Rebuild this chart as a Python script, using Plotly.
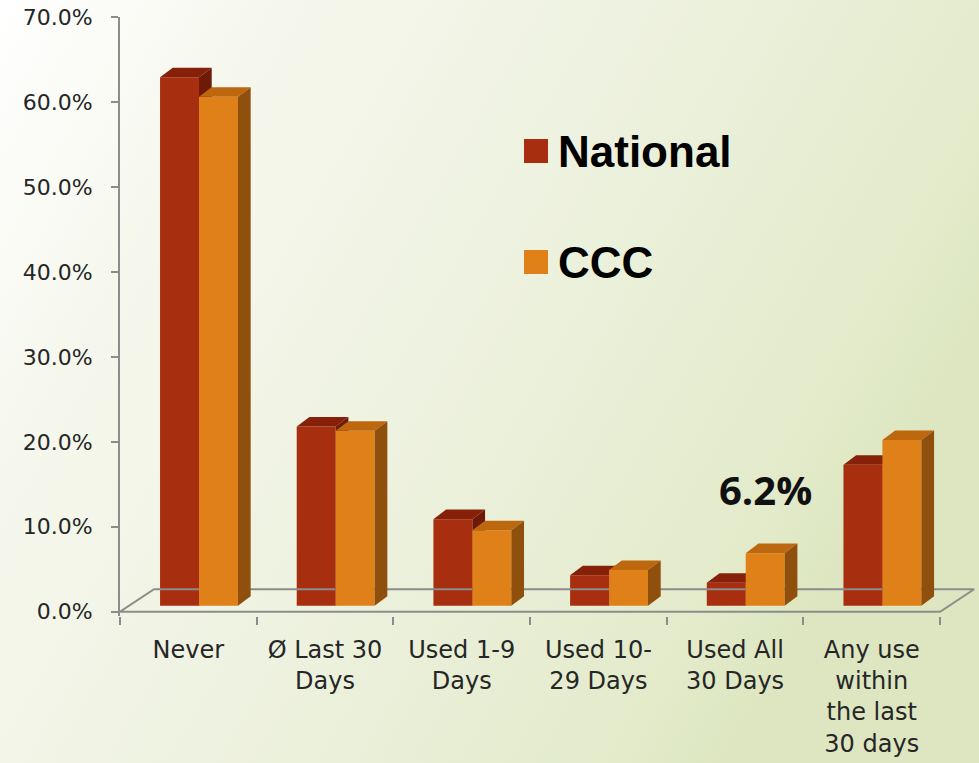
import base64
import plotly.graph_objects as go

# ---------------- data ----------------
categories = ["Never", "Ø Last 30<br>Days", "Used 1-9<br>Days", "Used 10-<br>29 Days",
              "Used All<br>30 Days", "Any use<br>within<br>the last<br>30 days"]
series_names = ["National", "CCC"]
national = [62.2, 21.1, 10.2, 3.6, 2.7, 16.6]
ccc = [59.9, 20.6, 8.9, 4.2, 6.2, 19.5]
y_ticks = [0, 10, 20, 30, 40, 50, 60, 70]
highlight_index = 4  # CCC value called out in the chart

# ---------------- style ----------------
W, H = 979, 763
ML, MR, MT, MB = 120, 2, 17, 147
PLOT_W, PLOT_H = W - ML - MR, H - MT - MB
X_MAX = 6.27
Y_MIN, Y_MAX = -0.5, 70
FLOOR_DX, FLOOR_DY = 0.249, 2.65      # depth of the 3D floor (x units, % units)
FRONT_DX, FRONT_DY = 0.078, 0.7       # where the bar fronts sit inside the floor
SIDE_DX, SIDE_DY = 0.093, 1.12        # bar depth
BAR_W = 0.285
GREY = "#8c8c8c"
TEXT = "#262626"
COL = {
    "National": {"front": "#a82e10", "top": "#862009", "side": "#6f1a07"},
    "CCC": {"front": "#e08019", "top": "#bd670f", "side": "#8f500e"},
}


def px_x(p):
    return (p - ML) / PLOT_W


def px_y(p):
    return (H - MB - p) / PLOT_H


centers = [i + 0.5 for i in range(len(categories))]

fig = go.Figure()

# floor of the 3D chart
n = len(categories)
fig.add_trace(go.Scatter(
    x=[0, n, n + FLOOR_DX, FLOOR_DX, 0], y=[0, 0, FLOOR_DY, FLOOR_DY, 0],
    mode="lines", line=dict(color=GREY, width=2), hoverinfo="skip", showlegend=False,
    xaxis="x", yaxis="y"))


def faces(values, offset):
    tx, ty, sx, sy = [], [], [], []
    for c, v in zip(centers, values):
        x0 = c + FRONT_DX + offset
        x1 = x0 + BAR_W
        b = FRONT_DY
        t = FRONT_DY + v
        tx += [x0, x1, x1 + SIDE_DX, x0 + SIDE_DX, x0, None]
        ty += [t, t, t + SIDE_DY, t + SIDE_DY, t, None]
        sx += [x1, x1, x1 + SIDE_DX, x1 + SIDE_DX, x1, None]
        sy += [b, t, t + SIDE_DY, b + SIDE_DY, b, None]
    return tx, ty, sx, sy


for name, values, offset, (xa, ya) in [
    ("National", national, -BAR_W, ("x", "y")),
    ("CCC", ccc, 0.0, ("x2", "y2")),
]:
    col = COL[name]
    fig.add_trace(go.Bar(
        x=[c + FRONT_DX for c in centers], y=values, base=FRONT_DY,
        width=BAR_W, offset=offset, name=name,
        marker=dict(color=col["front"], line=dict(width=0)),
        showlegend=False, xaxis=xa, yaxis=ya))
    tx, ty, sx, sy = faces(values, offset)
    fig.add_trace(go.Scatter(x=tx, y=ty, mode="lines", fill="toself",
                             fillcolor=col["top"], line=dict(width=0, color=col["top"]),
                             hoverinfo="skip", showlegend=False, xaxis=xa, yaxis=ya))
    fig.add_trace(go.Scatter(x=sx, y=sy, mode="lines", fill="toself",
                             fillcolor=col["side"], line=dict(width=0, color=col["side"]),
                             hoverinfo="skip", showlegend=False, xaxis=xa, yaxis=ya))

# call-out label
hi = highlight_index
fig.add_annotation(
    x=centers[hi] + FRONT_DX + BAR_W / 2, y=FRONT_DY + ccc[hi] + 7.5,
    xref="x", yref="y", text=f"{ccc[hi]:.1f}%", showarrow=False,
    font=dict(family="Open Sans", size=40, color="#111111", weight="bold"))

# custom legend (large swatches)
shapes = []
for name, ytop in [("National", 139), ("CCC", 250)]:
    shapes.append(dict(type="rect", xref="paper", yref="paper",
                       x0=px_x(524), x1=px_x(548), y0=px_y(ytop + 24), y1=px_y(ytop),
                       fillcolor=COL[name]["front"], line=dict(width=0)))
    fig.add_annotation(x=px_x(556), y=px_y(ytop + 12), xref="paper", yref="paper",
                       xanchor="left", yanchor="middle", showarrow=False, text=name,
                       font=dict(family="Liberation Sans", size=44, color="#000000",
                                 weight="bold"))

# gradient background
svg = ("<svg xmlns='http://www.w3.org/2000/svg' width='979' height='763' "
       "preserveAspectRatio='none'><defs><linearGradient id='g' x1='0' y1='0' "
       "x2='1' y2='0.45'><stop offset='0' stop-color='#ffffff'/>"
       "<stop offset='0.25' stop-color='#f5f7ec'/><stop offset='0.55' stop-color='#eef2e0'/>"
       "<stop offset='0.89' stop-color='#e3ebcb'/><stop offset='1' stop-color='#dde6c0'/>"
       "</linearGradient></defs><rect width='100%' height='100%' fill='url(#g)'/></svg>")
img_src = "data:image/svg+xml;base64," + base64.b64encode(svg.encode()).decode()

fig.update_layout(
    width=W, height=H,
    margin=dict(l=ML, r=MR, t=MT, b=MB, pad=0),
    paper_bgcolor="#eef2e0", plot_bgcolor="rgba(0,0,0,0)",
    barmode="overlay", showlegend=False,
    shapes=shapes,
    images=[dict(source=img_src, xref="paper", yref="paper",
                 x=-ML / PLOT_W, y=1 + MT / PLOT_H,
                 sizex=W / PLOT_W, sizey=H / PLOT_H,
                 sizing="stretch", xanchor="left", yanchor="top", layer="below")],
    xaxis=dict(range=[0, X_MAX], tickmode="array", tickvals=centers, ticktext=categories,
               ticks="", showgrid=False, zeroline=False, showline=False,
               tickfont=dict(family="DejaVu Sans", size=24, color=TEXT),
               ticklabelstandoff=17,
               minor=dict(tickmode="array", tickvals=list(range(n + 1)), ticks="outside",
                          ticklen=8, tickwidth=2, tickcolor=GREY, showgrid=False),
               fixedrange=True),
    yaxis=dict(range=[Y_MIN, Y_MAX], tickmode="array", tickvals=y_ticks,
               ticktext=[f"{v:.1f}%" for v in y_ticks],
               ticks="outside", ticklen=7, tickwidth=2, tickcolor=GREY,
               showline=True, linecolor=GREY, linewidth=2,
               showgrid=False, zeroline=False, ticklabelstandoff=14,
               tickfont=dict(family="DejaVu Sans", size=22, color=TEXT),
               fixedrange=True),
    xaxis2=dict(range=[0, X_MAX], overlaying="x", visible=False, fixedrange=True),
    yaxis2=dict(range=[Y_MIN, Y_MAX], overlaying="y", visible=False, fixedrange=True),
)

fig.write_html(
    "out.html",
    config={"displayModeBar": False},
    post_script="document.body.style.margin='0';document.body.style.overflow='hidden';",
)
